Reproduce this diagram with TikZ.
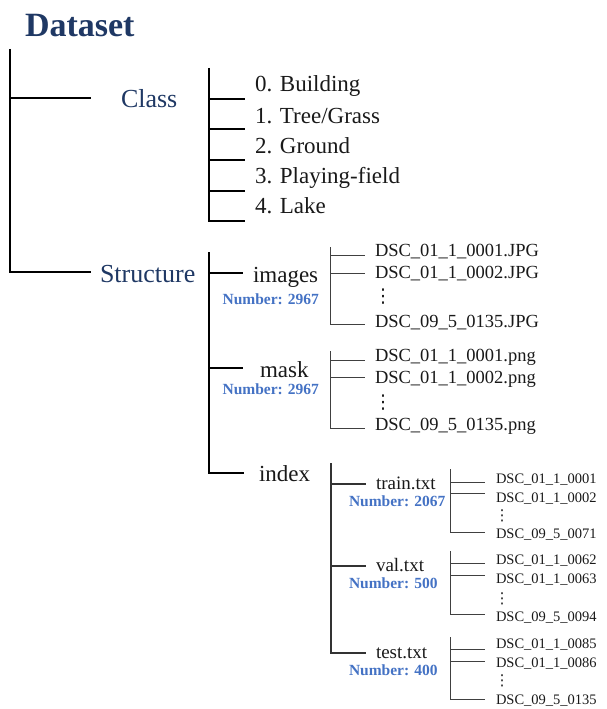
\documentclass[tikz,border=0pt]{standalone}
\usepackage{fontspec}
\setmainfont{Liberation Serif}
\newfontfamily\dejavu{DejaVu Sans}
\definecolor{navy}{HTML}{1F3864}
\definecolor{numblue}{HTML}{4472C4}
\begin{document}
\begin{tikzpicture}[x=1pt,y=-1pt,
 every node/.style={inner sep=0pt, outer sep=0pt},
 title/.style={anchor=base west, font=\fontsize{34}{40}\selectfont\bfseries, text=navy},
 cat/.style={anchor=base west, font=\fontsize{26}{30}\selectfont, text=navy},
 item/.style={anchor=base west, font=\fontsize{23}{27}\selectfont, text=black!90},
 num/.style={font=\fontsize{15.5}{18}\selectfont\bfseries, text=numblue},
 file/.style={anchor=base west, font=\fontsize{18.5}{22}\selectfont, text=black!90},
 sub/.style={anchor=base west, font=\fontsize{19}{22}\selectfont, text=black!90},
 deep/.style={anchor=base west, font=\fontsize{14.5}{17}\selectfont, text=black!90},
 dotsbig/.style={anchor=center, font=\dejavu\fontsize{19}{22}\selectfont, text=black!90},
 dotssmall/.style={anchor=center, font=\dejavu\fontsize{15}{17}\selectfont, text=black!90},
 heavy/.style={line width=2pt, black},
 medium/.style={line width=1.3pt, black!80},
 light/.style={line width=1pt, black!75}]
\useasboundingbox (0,0) rectangle (606,709);

% ---- top level
\node[title] (dataset) at (25,37) {Dataset};
\node[cat] (class) at (121,107) {Class};
\node[cat] (structure) at (100,282) {Structure};
\coordinate (rootTop) at (10,49);
\coordinate (rootBot) at (10,272);
\coordinate (classTick) at (91,98);
\coordinate (structTick) at (91,272);
\draw[heavy] (rootTop) -- (rootBot) -- (structTick);
\draw[heavy] (rootTop |- classTick) -- (classTick);

% ---- class list
\node[item] (c0) at (255,92) {0. Building};
\node[item] (c1) at (255,123) {1. Tree/Grass};
\node[item] (c2) at (255,153) {2. Ground};
\node[item] (c3) at (255,183) {3. Playing-field};
\node[item] (c4) at (255,213) {4. Lake};
\coordinate (clTop) at (209,68);
\coordinate (clBot) at (209,221);
\draw[heavy] (clTop) -- (clBot) -- (245,221);
\foreach \yy in {99,129,160,191}{\draw[heavy] (209,\yy) -- (245,\yy);}

% ---- structure list
\node[item] (images) at (253,282) {images};
\node[num, anchor=base east] (nimages) at (319,304) {Number: 2967};
\node[item] (mask) at (260,377) {mask};
\node[num, anchor=base east] (nmask) at (319,394) {Number: 2967};
\node[item] (index) at (259,481) {index};
\coordinate (stTop) at (209,252);
\coordinate (stBot) at (209,473);
\draw[heavy] (stTop) -- (stBot) -- (244,473);
\draw[heavy] (209,273) -- (243,273);
\draw[heavy] (209,368) -- (243,368);

% ---- images files
\node[file] (i1) at (375,256) {DSC\_01\_1\_0001.JPG};
\node[file] (i2) at (375,278) {DSC\_01\_1\_0002.JPG};
\node[dotsbig] (idots) at (383,297) {⋮};
\node[file] (i3) at (375,327) {DSC\_09\_5\_0135.JPG};
\draw[light] (330,247) -- (330,324) -- (365,324);
\draw[light] (330,255) -- (365,255);
\draw[light] (330,273) -- (365,273);

% ---- mask files
\node[file] (m1) at (375,361) {DSC\_01\_1\_0001.png};
\node[file] (m2) at (375,383) {DSC\_01\_1\_0002.png};
\node[dotsbig] (mdots) at (383,403) {⋮};
\node[file] (m3) at (375,430) {DSC\_09\_5\_0135.png};
\draw[light] (330,351) -- (330,428) -- (365,428);
\draw[light] (330,360) -- (365,360);
\draw[light] (330,377) -- (365,377);

% ---- index list
\node[sub] (train) at (376,489) {train.txt};
\node[num, anchor=base west] (ntrain) at (349,506) {Number: 2067};
\node[sub] (val) at (376,571) {val.txt};
\node[num, anchor=base west] (nval) at (349,588) {Number: 500};
\node[sub] (test) at (376,658) {test.txt};
\node[num, anchor=base west] (ntest) at (349,675) {Number: 400};
\draw[medium] (331,463) -- (331,653) -- (366,653);
\draw[medium] (331,484) -- (366,484);
\draw[medium] (331,566) -- (366,566);

% ---- train files
\node[deep] (t1) at (496,483) {DSC\_01\_1\_0001};
\node[deep] (t2) at (496,502) {DSC\_01\_1\_0002};
\node[dotssmall] (tdots) at (502,516) {⋮};
\node[deep] (t3) at (496,538) {DSC\_09\_5\_0071};
\draw[light] (450,469) -- (450,532) -- (485,532);
\draw[light] (450,482) -- (485,482);
\draw[light] (450,493) -- (485,493);

% ---- val files
\node[deep] (v1) at (496,564) {DSC\_01\_1\_0062};
\node[deep] (v2) at (496,583) {DSC\_01\_1\_0063};
\node[dotssmall] (vdots) at (502,599) {⋮};
\node[deep] (v3) at (496,621) {DSC\_09\_5\_0094};
\draw[light] (450,551) -- (450,614) -- (485,614);
\draw[light] (450,563) -- (485,563);
\draw[light] (450,575) -- (485,575);

% ---- test files
\node[deep] (s1) at (496,648) {DSC\_01\_1\_0085};
\node[deep] (s2) at (496,667) {DSC\_01\_1\_0086};
\node[dotssmall] (sdots) at (502,681) {⋮};
\node[deep] (s3) at (496,704) {DSC\_09\_5\_0135};
\draw[light] (450,637) -- (450,699) -- (485,699);
\draw[light] (450,649) -- (485,649);
\draw[light] (450,661) -- (485,661);
\end{tikzpicture}
\end{document}
